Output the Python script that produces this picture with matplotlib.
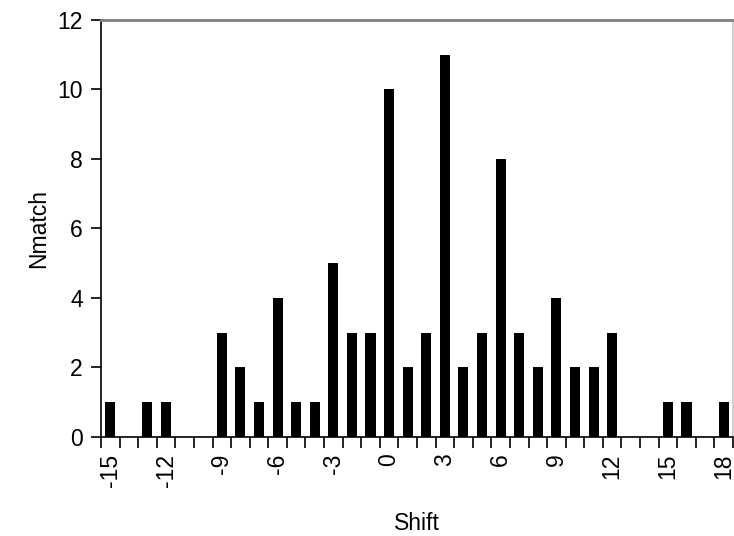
import numpy as np
import matplotlib.pyplot as plt

plt.rcParams['font.family'] = ['Liberation Sans', 'DejaVu Sans']

# shift values and number of matches
shifts = list(range(-15, 19))
nmatch = [1, 0, 1, 1, 0, 0, 3, 2, 1, 4, 1, 1, 5, 3, 3, 10, 2, 3, 11,
          2, 3, 8, 3, 2, 4, 2, 2, 3, 0, 0, 1, 1, 0, 1]
label_shifts = [-15, -12, -9, -6, -3, 0, 3, 6, 9, 12, 15, 18]
y_ticks = [0, 2, 4, 6, 8, 10, 12]

fig = plt.figure(figsize=(7.34, 5.36), dpi=100)
ax = fig.add_axes([0.1376, 0.1847, 0.861, 0.778])

ax.bar(shifts, nmatch, width=0.54, color='black')

ax.set_xlim(shifts[0] - 0.5, shifts[-1] + 0.5)
ax.set_ylim(0, 12)

fs = 16.5
ax.set_xticks(label_shifts)
ax.set_xticklabels([str(s) for s in label_shifts], rotation=90, fontsize=fs)
ax.set_xticks(np.arange(shifts[0] - 0.5, shifts[-1] + 1.0, 1.0), minor=True)
ax.tick_params(axis='x', which='major', length=0, pad=12)
ax.tick_params(axis='x', which='minor', length=8, width=1.2, direction='out', color='black')

ax.set_yticks(y_ticks)
ax.set_yticklabels([str(v) for v in y_ticks], fontsize=fs)
ax.tick_params(axis='y', length=7, width=1.2, direction='out', pad=6)

ax.set_xlabel('Shift', fontsize=fs, labelpad=18)
ax.set_ylabel('Nmatch', fontsize=fs, labelpad=5)

ax.spines['left'].set_color('black')
ax.spines['left'].set_linewidth(1.2)
ax.spines['bottom'].set_color('black')
ax.spines['bottom'].set_linewidth(1.2)
ax.spines['top'].set_color('#808080')
ax.spines['top'].set_linewidth(2)
ax.spines['right'].set_color('#c8c8c8')
ax.spines['right'].set_linewidth(1.2)

fig.savefig('out.png', dpi=100)
